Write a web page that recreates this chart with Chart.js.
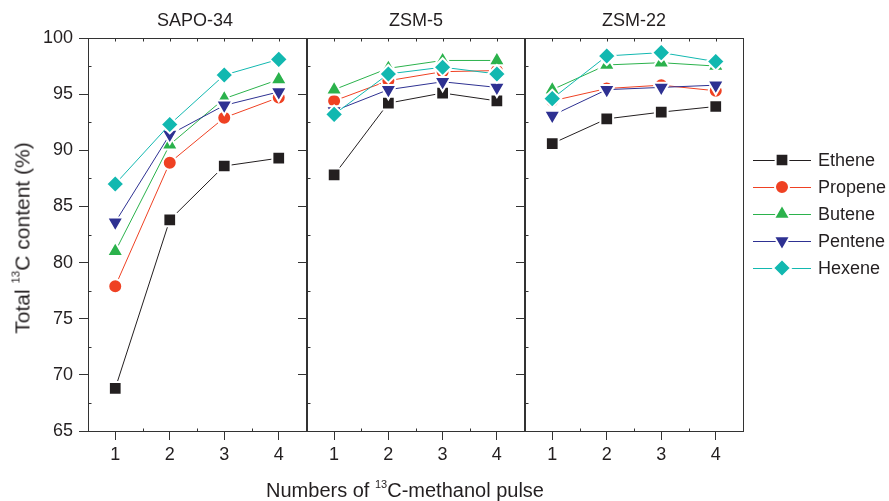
<!DOCTYPE html>
<html>
<head>
<meta charset="utf-8">
<script src="https://cdn.jsdelivr.net/npm/chart.js@4.4.0/dist/chart.umd.min.js"></script>
<style>
  body { margin: 0; background: #fff; font-family: "Liberation Sans", Arial, sans-serif; color: #231f20; }
  #wrap { position: relative; width: 889px; height: 501px; overflow: hidden; }
  #wrap canvas { position: absolute; left: 0; top: 0; }
  .lbl { position: absolute; white-space: nowrap; line-height: 1; transform: translate(-50%, -50%); }
  .lbl sup { font-size: 0.55em; position: relative; top: -0.1em; vertical-align: top; }
</style>
</head>
<body>
<div id="wrap">
  <canvas id="c1" width="889" height="501"></canvas>
  <canvas id="c2" width="889" height="501"></canvas>
  <canvas id="c3" width="889" height="501"></canvas>
  <div class="lbl" style="left:195px;top:20px;font-size:18px">SAPO-34</div>
  <div class="lbl" style="left:416px;top:20px;font-size:18px">ZSM-5</div>
  <div class="lbl" style="left:634px;top:20px;font-size:18px">ZSM-22</div>
  <div class="lbl" style="left:405px;top:490px;font-size:20px">Numbers of <sup>13</sup>C-methanol pulse</div>
  <div class="lbl" style="left:22px;top:238px;font-size:21px;transform:translate(-50%,-50%) rotate(-90deg)">Total <sup>13</sup>C content (%)</div>
</div>
<script>
// pulse number (x categories)
const pulses = ['1', '2', '3', '4'];
const seriesNames = ['Ethene', 'Propene', 'Butene', 'Pentene', 'Hexene'];
const yTicks = [65, 70, 75, 80, 85, 90, 95, 100];

// SAPO-34
const sapoEthene  = [68.8, 83.8, 88.6, 89.3];
const sapoPropene = [77.9, 88.9, 92.9, 94.7];
const sapoButene  = [81.0, 90.5, 94.6, 96.3];
const sapoPentene = [83.6, 91.4, 94.0, 95.2];
const sapoHexene  = [87.0, 92.3, 96.7, 98.1];

// ZSM-5
const zsm5Ethene  = [87.8, 94.2, 95.1, 94.4];
const zsm5Propene = [94.4, 96.2, 97.0, 97.1];
const zsm5Butene  = [95.4, 97.3, 98.0, 98.0];
const zsm5Pentene = [93.5, 95.4, 96.1, 95.6];
const zsm5Hexene  = [93.2, 96.8, 97.4, 96.8];

// ZSM-22
const zsm22Ethene  = [90.6, 92.8, 93.4, 93.9];
const zsm22Propene = [94.4, 95.5, 95.8, 95.3];
const zsm22Butene  = [95.4, 97.6, 97.8, 97.5];
const zsm22Pentene = [93.1, 95.4, 95.6, 95.8];
const zsm22Hexene  = [94.6, 98.4, 98.7, 97.9];

const colors = ['#231f20', '#ef4123', '#2bb24c', '#2e3192', '#12b8b0'];
const styles = [
  { pointStyle: 'rect', pointRadius: 9, pointRotation: 0 },
  { pointStyle: 'circle', pointRadius: 7, pointRotation: 0 },
  { pointStyle: 'triangle', pointRadius: 9.5, pointRotation: 0 },
  { pointStyle: 'triangle', pointRadius: 9.5, pointRotation: 180 },
  { pointStyle: 'rectRot', pointRadius: 9, pointRotation: 0 }
];

const frameColor = '#333';
const tickFont = { family: '"Liberation Sans", Arial, sans-serif', size: 18 };

function makeDatasets(seriesData) {
  return seriesData.map((vals, i) => ({
    label: seriesNames[i],
    data: vals,
    borderColor: colors[i],
    backgroundColor: colors[i],
    borderWidth: 1,
    pointBackgroundColor: colors[i],
    pointBorderColor: '#fff',
    pointBorderWidth: 2,
    pointStyle: styles[i].pointStyle,
    pointRadius: styles[i].pointRadius,
    pointRotation: styles[i].pointRotation,
    order: seriesNames.length - i,
    tension: 0
  }));
}

// frame around each panel plus small inward minor ticks
const framePlugin = {
  id: 'frame',
  afterDraw(chart) {
    const { ctx, chartArea: a, scales } = chart;
    const l = Math.round(a.left) + 0.5, r = Math.round(a.right) + 0.5;
    const t = Math.round(a.top) + 0.5, b = Math.round(a.bottom) + 0.5;
    ctx.save();
    ctx.strokeStyle = frameColor;
    ctx.lineWidth = 1;
    ctx.strokeRect(l, t, r - l, b - t);
    ctx.beginPath();
    for (let v = 67.5; v < 100; v += 5) {
      const py = Math.round(scales.y.getPixelForValue(v)) + 0.5;
      ctx.moveTo(l, py); ctx.lineTo(l + 3, py);
    }
    for (let i = 0; i < pulses.length; i++) {
      const px = Math.round(scales.x.getPixelForTick(i)) + 0.5;
      ctx.moveTo(px, t); ctx.lineTo(px, t + 3);
      if (i > 0) {
        const mx = Math.round((scales.x.getPixelForTick(i) + scales.x.getPixelForTick(i - 1)) / 2) + 0.5;
        ctx.moveTo(mx, b); ctx.lineTo(mx, b - 3);
        ctx.moveTo(mx, t); ctx.lineTo(mx, t + 3);
      }
    }
    ctx.stroke();
    ctx.restore();
  }
};

// legend on the right with line through marker
const sideLegend = {
  id: 'sideLegend',
  afterDraw(chart) {
    const ctx = chart.ctx;
    ctx.save();
    chart.data.datasets.forEach((ds, i) => {
      const yy = 160 + i * 27;
      ctx.strokeStyle = ds.borderColor;
      ctx.lineWidth = 1;
      ctx.beginPath();
      ctx.moveTo(753, yy + 0.5); ctx.lineTo(811, yy + 0.5);
      ctx.stroke();
      ctx.fillStyle = ds.pointBackgroundColor;
      ctx.strokeStyle = '#fff';
      ctx.lineWidth = 2;
      Chart.helpers.drawPoint(ctx, {
        pointStyle: ds.pointStyle, radius: ds.pointRadius,
        rotation: ds.pointRotation, borderWidth: 2
      }, 782, yy);
      ctx.fillStyle = '#231f20';
      ctx.font = '18px "Liberation Sans", Arial, sans-serif';
      ctx.textBaseline = 'middle';
      ctx.fillText(ds.label, 818, yy + 1);
    });
    ctx.restore();
  }
};

const panels = [
  { id: 'c1', left: 88, right: 306, data: [sapoEthene, sapoPropene, sapoButene, sapoPentene, sapoHexene], first: true },
  { id: 'c2', left: 307, right: 524, data: [zsm5Ethene, zsm5Propene, zsm5Butene, zsm5Pentene, zsm5Hexene] },
  { id: 'c3', left: 525, right: 743, data: [zsm22Ethene, zsm22Propene, zsm22Butene, zsm22Pentene, zsm22Hexene], legend: true }
];

panels.forEach(p => {
  const yWidth = p.first ? 88 : 9;
  new Chart(document.getElementById(p.id), {
    type: 'line',
    data: { labels: pulses, datasets: makeDatasets(p.data) },
    options: {
      responsive: false,
      animation: false,
      layout: { padding: { left: p.left - yWidth, right: 889 - p.right, top: 38, bottom: 30 } },
      plugins: { legend: { display: false }, tooltip: { enabled: false } },
      scales: {
        x: {
          type: 'category',
          offset: true,
          afterFit(s) { s.height = 40; },
          border: { display: true, color: frameColor, width: 1 },
          grid: { display: true, drawOnChartArea: false, drawTicks: true, tickLength: 9, color: frameColor, offset: false },
          ticks: { color: '#231f20', font: tickFont, padding: 4, maxRotation: 0 }
        },
        y: {
          min: 65, max: 100,
          afterFit(s) { s.width = yWidth; },
          afterBuildTicks(s) { s.ticks = yTicks.map(v => ({ value: v })); },
          border: { display: true, color: frameColor, width: 1 },
          grid: { display: true, drawOnChartArea: false, drawTicks: true, tickLength: 9, color: frameColor },
          ticks: { display: !!p.first, color: '#231f20', font: tickFont, padding: 6 }
        }
      }
    },
    plugins: p.legend ? [framePlugin, sideLegend] : [framePlugin]
  });
});
</script>
</body>
</html>
